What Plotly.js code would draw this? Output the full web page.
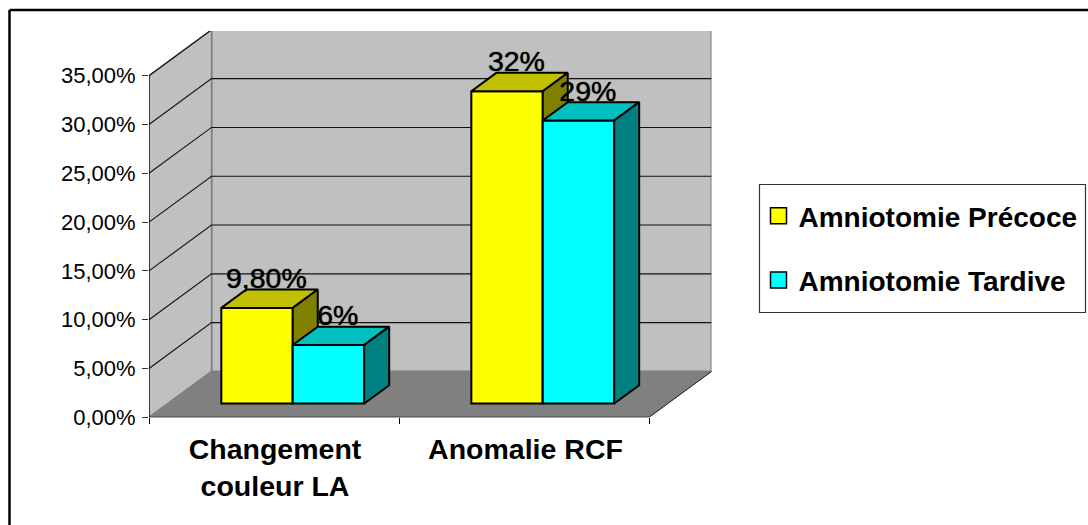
<!DOCTYPE html>
<html><head><meta charset="utf-8">
<script src="https://cdn.plot.ly/plotly-3.0.1.min.js"></script>
<style>html,body{margin:0;padding:0;background:#fff}#c{width:1088px;height:525px}</style>
</head><body><div id="c"></div>
<script>
const categories = ['Changement<br>couleur LA', 'Anomalie RCF'];
const seriesNames = ['Amniotomie Précoce', 'Amniotomie Tardive'];
const precoce = [9.8, 32];
const tardive = [6, 29];
const precoceLabels = ['9,80%', '32%'];
const tardiveLabels = ['6%', '29%'];
const yTicks = [0, 5, 10, 15, 20, 25, 30, 35];
const yTickLabels = ['0,00%', '5,00%', '10,00%', '15,00%', '20,00%', '25,00%', '30,00%', '35,00%'];

// 3D projection: depth 0..1 shifts a point to the right and upward
const DX = 0.25, DY = 4.7, YMAX = 35, XMAX = 2;
const BAR_W = 0.2857, GAP = 0.2143, D0 = 0.3, D1 = 0.7;
const px = (x, d) => x + d * DX, py = (y, d) => y + d * DY;

function poly(pts, fill, line, lw, ax) {
  return {type: 'scatter', mode: 'lines', x: pts.map(p => px(p[0], p[2])), y: pts.map(p => py(p[1], p[2])),
    fill: fill ? 'toself' : 'none', fillcolor: fill || undefined,
    line: {color: line, width: lw}, hoverinfo: 'skip', showlegend: false,
    xaxis: ax ? 'x' + ax : 'x', yaxis: ax ? 'y' + ax : 'y'};
}
const traces = [];
// walls and floor
traces.push(poly([[0,0,1],[XMAX,0,1],[XMAX,YMAX,1],[0,YMAX,1],[0,0,1]], '#C0C0C0', '#808080', 2));
traces.push(poly([[0,0,0],[0,0,1],[0,YMAX,1],[0,YMAX,0],[0,0,0]], '#C0C0C0', '#808080', 1.5));
traces.push(poly([[0,0,0],[XMAX,0,0],[XMAX,0,1],[0,0,1],[0,0,0]], '#808080', '#808080', 1));
// gridlines
yTicks.slice(1).forEach(v => traces.push(poly([[0,v,0],[0,v,1],[XMAX,v,1]], null, '#111', 1.1)));
traces.push(poly([[XMAX,0,0],[XMAX,0,1]], null, '#222', 1));
// axis lines
traces.push(poly([[0,0,0],[0,YMAX,0]], null, '#000', 1.2));
traces.push(poly([[0,0,0],[XMAX,0,0]], null, '#000', 1.2));

function barSeries(vals, labels, slot, name, front, top, side, ax) {
  const centers = vals.map((v, i) => px(i + GAP + BAR_W * (slot + 0.5), D0));
  traces.push({type: 'bar', x: centers, y: vals, base: vals.map(() => D0 * DY), width: BAR_W,
    marker: {color: front, line: {color: '#000', width: 2}}, showlegend: false, hoverinfo: 'skip',
    xaxis: 'x' + ax, yaxis: 'y' + ax});
  vals.forEach((v, i) => {
    const l = i + GAP + BAR_W * slot, r = l + BAR_W;
    traces.push(poly([[l,v,D0],[r,v,D0],[r,v,D1],[l,v,D1],[l,v,D0]], top, '#000', 2, ax));
    traces.push(poly([[r,0,D0],[r,0,D1],[r,v,D1],[r,v,D0],[r,0,D0]], side, '#000', 2, ax));
  });
  traces.push({type: 'scatter', mode: 'text', x: vals.map((v, i) => px(i + GAP + BAR_W * (slot + 0.5), 0.45)),
    y: vals.map(v => py(v, 0.58)), text: labels, textposition: 'top center',
    textfont: {family: 'Liberation Sans', size: 28.5, color: '#000', shadow: '0 0 1px #000'}, showlegend: false, hoverinfo: 'skip',
    xaxis: 'x3', yaxis: 'y3', cliponaxis: false});
  traces.push({type: 'scatter', mode: 'markers', x: [null], y: [null], name: name,
    marker: {symbol: 'square', size: 16, color: front, line: {color: '#000', width: 1.5}},
    legendgroup: name, xaxis: 'x3', yaxis: 'y3', hoverinfo: 'skip'});
}
barSeries(precoce, precoceLabels, 0, seriesNames[0], '#FFFF00', '#C0C000', '#808000', '2');
barSeries(tardive, tardiveLabels, 1, seriesNames[1], '#00FFFF', '#00C0C0', '#008080', '3');

const W = 1088, H = 525;
const domX = [149 / W, 711.5 / W], domY = [(H - 417.3) / H, (H - 31) / H];
const rx = [0, XMAX + DX], ry = [0, 386.3 / 9.76];
const font = {family: 'Liberation Sans', color: '#000'};
const layout = {
  width: W, height: H, margin: {l: 0, r: 0, t: 0, b: 0, autoexpand: false},
  paper_bgcolor: '#fff', plot_bgcolor: '#fff', showlegend: true, barmode: 'overlay',
  font: font,
  xaxis: {domain: domX, range: rx, tickmode: 'array', tickvals: [0, 1, 2], ticktext: ['', '', ''],
    ticks: 'outside', ticklen: 6, tickcolor: '#000', tickwidth: 1, showgrid: false, zeroline: false, showline: false, anchor: 'y', fixedrange: true},
  yaxis: {domain: domY, range: ry, tickmode: 'array', tickvals: yTicks, ticktext: yTickLabels,
    ticks: 'outside', ticklen: 6, tickcolor: '#333', tickwidth: 1, showgrid: false, zeroline: false, showline: false,
    tickfont: {family: 'Liberation Sans', size: 22, color: '#000'}, ticklabelstandoff: 2, anchor: 'x', fixedrange: true},
  xaxis2: {domain: domX, range: rx, overlaying: 'x', anchor: 'y2', side: 'bottom', tickmode: 'array', tickvals: [0.504, 1.506], ticktext: categories,
    ticks: '', ticklabelstandoff: 12, showgrid: false, zeroline: false, showline: false, tickfont: {family: 'Liberation Sans', size: 28.5, weight: 700, color: '#000'}, fixedrange: true},
  yaxis2: {domain: domY, range: ry, overlaying: 'y', anchor: 'x2', visible: false, fixedrange: true},
  xaxis3: {domain: domX, range: rx, overlaying: 'x', anchor: 'y3', visible: false, fixedrange: true},
  yaxis3: {domain: domY, range: ry, overlaying: 'y', anchor: 'x3', visible: false, fixedrange: true},
  legend: {x: 758.5 / W, y: (H - 191) / H, xanchor: 'left', yanchor: 'top', bgcolor: 'rgba(0,0,0,0)', borderwidth: 0,
    font: {family: 'Liberation Sans', size: 28, weight: 700, color: '#000'}, tracegroupgap: 25, traceorder: 'grouped', itemclick: false, itemdoubleclick: false},
  shapes: [
    {type: 'line', xref: 'paper', yref: 'paper', x0: 9.5 / W, x1: 1, y0: (H - 10) / H, y1: (H - 10) / H, line: {color: '#000', width: 2.5}},
    {type: 'line', xref: 'paper', yref: 'paper', x0: 9.5 / W, x1: 9.5 / W, y0: 0, y1: (H - 10) / H, line: {color: '#000', width: 2.5}},
    {type: 'rect', xref: 'paper', yref: 'paper', x0: 759.5 / W, x1: 1085.5 / W, y0: (H - 184.5) / H, y1: (H - 312.5) / H, line: {color: '#333', width: 1.2}, fillcolor: '#fff'}
  ]
};
Plotly.newPlot('c', traces, layout, {displayModeBar: false});
</script></body></html>
